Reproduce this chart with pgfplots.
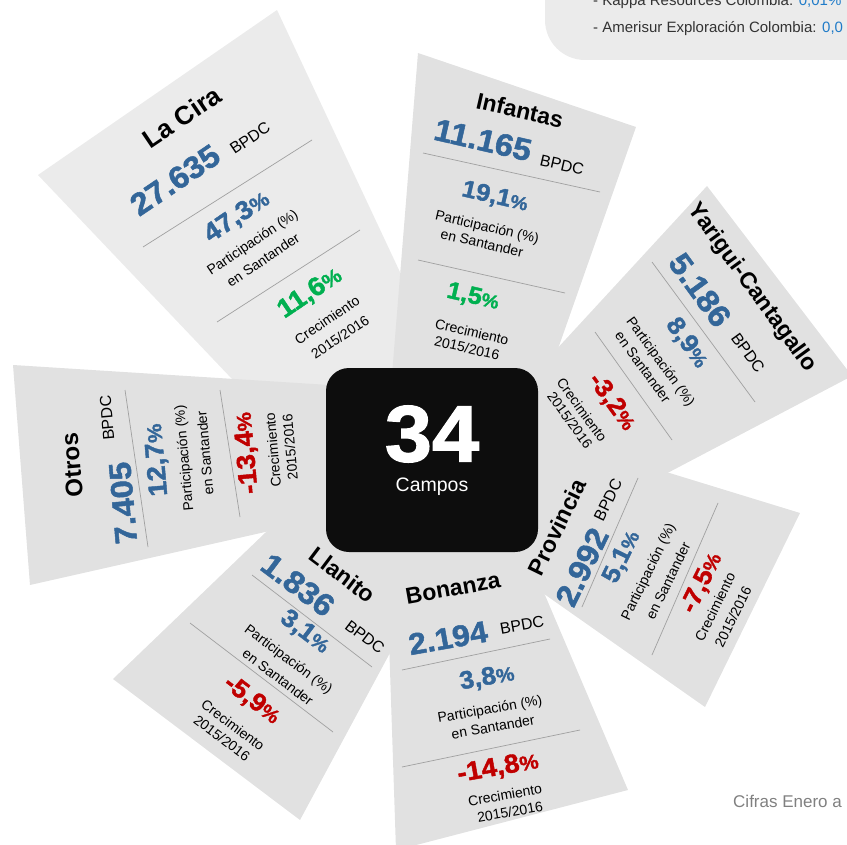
\documentclass[border=0pt]{standalone}
\usepackage{pgfplots}
\pgfplotsset{compat=1.18}
\usepackage{graphicx}
\usepackage{fontspec}
\setmainfont{Liberation Sans}
\newfontfamily\heavy[FakeBold=1.6,FakeStretch=1.06]{Liberation Sans}

\definecolor{cardA}{HTML}{EBEBEB}
\definecolor{cardB}{HTML}{E1E1E1}
\definecolor{azul}{HTML}{336699}
\definecolor{verde}{HTML}{00B050}
\definecolor{rojo}{HTML}{C00000}
\definecolor{linea}{HTML}{A0A0A0}
\definecolor{nota}{HTML}{333333}
\definecolor{azulc}{HTML}{1F7BC8}

\newcommand{\fs}[1]{\fontsize{#1}{#1}\selectfont}
\newcommand{\pc}{\scalebox{0.78}{\%}}
% \T{rotation}{font}{colour}{x,y}{text}
\newcommand{\T}[5]{\node[rotate=#1,font=#2,text=#3,inner sep=0pt] at (axis cs:#4) {#5};}

\begin{document}
\begin{tikzpicture}
\begin{axis}[
    width=847pt, height=845pt, scale only axis,
    xmin=0, xmax=847, ymin=0, ymax=845, y dir=reverse,
    hide axis, clip=false,
]
\coordinate (bl) at (axis cs:0,845);
\coordinate (tr) at (axis cs:847,0);

% recuadro superior derecho
\addplot[fill=cardA, draw=none, rounded corners=40pt] coordinates {(545,-80) (545,60) (920,60) (920,-80)} -- cycle;
\node[anchor=base west, font=\fs{15}, text=nota, inner sep=0pt] at (axis cs:593,6) {- Kappa Resources Colombia: \textcolor{azulc}{0,01\%}};
\node[anchor=base west, font=\fs{15}, text=nota, inner sep=0pt] at (axis cs:593,33) {- Amerisur Exploración Colombia: \textcolor{azulc}{0,0}};

% tarjetas
\addplot[fill=cardA, draw=none] coordinates {(38,175) (277,10) (460,400) (330,482)};   % La Cira
\addplot[fill=cardB, draw=none] coordinates {(113,679) (265,533) (360,440) (440,560) (300,820)}; % Llanito
\addplot[fill=cardB, draw=none] coordinates {(13,365) (345,386) (345,514) (30,585)};   % Otros
\addplot[fill=cardB, draw=none] coordinates {(418,53) (636,127) (540,400) (390,400)};  % Infantas
\addplot[fill=cardB, draw=none] coordinates {(707,186) (852,376) (540,540) (519,390)}; % Yarigui
\addplot[fill=cardB, draw=none] coordinates {(500,421) (800,513) (705,707) (500,563)}; % Provincia
\addplot[fill=cardB, draw=none] coordinates {(385,520) (513,520) (628,790) (397,850) (396,850)}; % Bonanza

% La Cira
\addplot[linea, line width=0.7pt] coordinates {(143,247) (312,140)};
\addplot[linea, line width=0.7pt] coordinates {(217,322) (360,230)};
\T{34}{\fs{26}\bfseries}{black}{182,117}{La Cira}
\T{34}{\fs{31}\heavy\bfseries}{azul}{175,180}{27.635}
\T{34}{\fs{16}}{black}{250,138}{BPDC}
\T{34}{\fs{26}\heavy\bfseries}{azul}{237,217}{47,3\pc}
\T{34}{\fs{14}}{black}{253,243}{Participación (\%)}
\T{34}{\fs{14}}{black}{263,260}{en Santander}
\T{34}{\fs{26}\heavy\bfseries}{verde}{310,293}{11,6\pc}
\T{34}{\fs{14}}{black}{327,320}{Crecimiento}
\T{34}{\fs{14}}{black}{340,337}{2015/2016}

% Infantas
\addplot[linea, line width=0.7pt] coordinates {(423,153) (600,192)};
\addplot[linea, line width=0.7pt] coordinates {(418,260) (565,293)};
\T{-13}{\fs{23}\bfseries}{black}{520,110}{Infantas}
\T{-13}{\fs{31}\heavy\bfseries}{azul}{483,140}{11.165}
\T{-13}{\fs{16}}{black}{562,165}{BPDC}
\T{-13}{\fs{24}\heavy\bfseries}{azul}{495,197}{19,1\pc}
\T{-13}{\fs{14}}{black}{487,228}{Participación (\%)}
\T{-13}{\fs{14}}{black}{482,243}{en Santander}
\T{-13}{\fs{24}\heavy\bfseries}{verde}{473,297}{1,5\pc}
\T{-13}{\fs{14}}{black}{472,332}{Crecimiento}
\T{-13}{\fs{14}}{black}{467,348}{2015/2016}

% Yarigui-Cantagallo
\addplot[linea, line width=0.7pt] coordinates {(652,262) (755,402)};
\addplot[linea, line width=0.7pt] coordinates {(595,332) (672,440)};
\T{-54}{\fs{23}\bfseries}{black}{752,288}{Yarigui-Cantagallo}
\T{-54}{\fs{31}\heavy\bfseries}{azul}{700,290}{5.186}
\T{-54}{\fs{16}}{black}{748,353}{BPDC}
\T{-54}{\fs{25}\heavy\bfseries}{azul}{687,343}{8,9\pc}
\T{-54}{\fs{14}}{black}{660,362}{Participación (\%)}
\T{-54}{\fs{14}}{black}{643,367}{en Santander}
\T{-54}{\fs{25}\heavy\bfseries}{rojo}{612,402}{-3,2\pc}
\T{-54}{\fs{14}}{black}{582,410}{Crecimiento}
\T{-54}{\fs{14}}{black}{570,420}{2015/2016}

% Otros
\addplot[linea, line width=0.7pt] coordinates {(125,390) (148,547)};
\addplot[linea, line width=0.7pt] coordinates {(220,390) (240,517)};
\T{95}{\fs{24}\bfseries}{black}{72,465}{Otros}
\T{95}{\fs{16}}{black}{107,418}{BPDC}
\T{95}{\fs{31}\heavy\bfseries}{azul}{123,503}{7.405}
\T{95}{\fs{26}\heavy\bfseries}{azul}{157,460}{12,7\pc}
\T{95}{\fs{14}}{black}{185,458}{Participación (\%)}
\T{95}{\fs{14}}{black}{205,453}{en Santander}
\T{95}{\fs{26}\heavy\bfseries}{rojo}{247,453}{-13,4\pc}
\T{95}{\fs{14}}{black}{273,450}{Crecimiento}
\T{95}{\fs{14}}{black}{290,447}{2015/2016}

% Provincia
\addplot[linea, line width=0.7pt] coordinates {(638,478) (582,607)};
\addplot[linea, line width=0.7pt] coordinates {(718,503) (652,655)};
\T{64}{\fs{23}\bfseries}{black}{557,527}{Provincia}
\T{64}{\fs{16}}{black}{608,500}{BPDC}
\T{64}{\fs{31}\heavy\bfseries}{azul}{582,567}{2.992}
\T{64}{\fs{25}\heavy\bfseries}{azul}{622,557}{5,1\pc}
\T{64}{\fs{14}}{black}{649,572}{Participación (\%)}
\T{64}{\fs{14}}{black}{668,581}{en Santander}
\T{64}{\fs{25}\heavy\bfseries}{rojo}{702,583}{-7,5\pc}
\T{64}{\fs{14}}{black}{715,607}{Crecimiento}
\T{64}{\fs{14}}{black}{733,617}{2015/2016}

% Llanito
\addplot[linea, line width=0.7pt] coordinates {(252,575) (372,667)};
\addplot[linea, line width=0.7pt] coordinates {(190,623) (333,732)};
\T{-37}{\fs{23}\bfseries}{black}{343,575}{Llanito}
\T{-37}{\fs{31}\heavy\bfseries}{azul}{298,585}{1.836}
\T{-37}{\fs{16}}{black}{365,637}{BPDC}
\T{-37}{\fs{25}\heavy\bfseries}{azul}{305,632}{3,1\pc}
\T{-37}{\fs{14}}{black}{288,660}{Participación (\%)}
\T{-37}{\fs{14}}{black}{278,677}{en Santander}
\T{-37}{\fs{25}\heavy\bfseries}{rojo}{252,700}{-5,9\pc}
\T{-37}{\fs{14}}{black}{233,725}{Crecimiento}
\T{-37}{\fs{14}}{black}{222,738}{2015/2016}

% Bonanza
\addplot[linea, line width=0.7pt] coordinates {(402,670) (550,639)};
\addplot[linea, line width=0.7pt] coordinates {(402,767) (580,730)};
\T{10}{\fs{23}\bfseries}{black}{453,588}{Bonanza}
\T{10}{\fs{30}\heavy\bfseries}{azul}{448,638}{2.194}
\T{10}{\fs{16}}{black}{522,625}{BPDC}
\T{10}{\fs{25}\heavy\bfseries}{azul}{487,678}{3,8\pc}
\T{10}{\fs{14}}{black}{490,710}{Participación (\%)}
\T{10}{\fs{14}}{black}{493,727}{en Santander}
\T{10}{\fs{26}\heavy\bfseries}{rojo}{498,768}{-14,8\pc}
\T{10}{\fs{14}}{black}{505,795}{Crecimiento}
\T{10}{\fs{14}}{black}{510,812}{2015/2016}

% recuadro central
\addplot[fill=black!95, draw=none, rounded corners=23pt] coordinates {(326,368) (538,368) (538,552) (326,552)} -- cycle;
\T{0}{\fs{80}\heavy\bfseries}{white}{432,434}{34}
\T{0}{\fs{19.5}}{white}{432,487}{Campos}

% nota
\node[anchor=base west, font=\fs{17}, text=gray, inner sep=0pt] at (axis cs:733,807) {Cifras Enero a};
\end{axis}
\pgfresetboundingbox
\path (bl) rectangle (tr);
\end{tikzpicture}
\end{document}
